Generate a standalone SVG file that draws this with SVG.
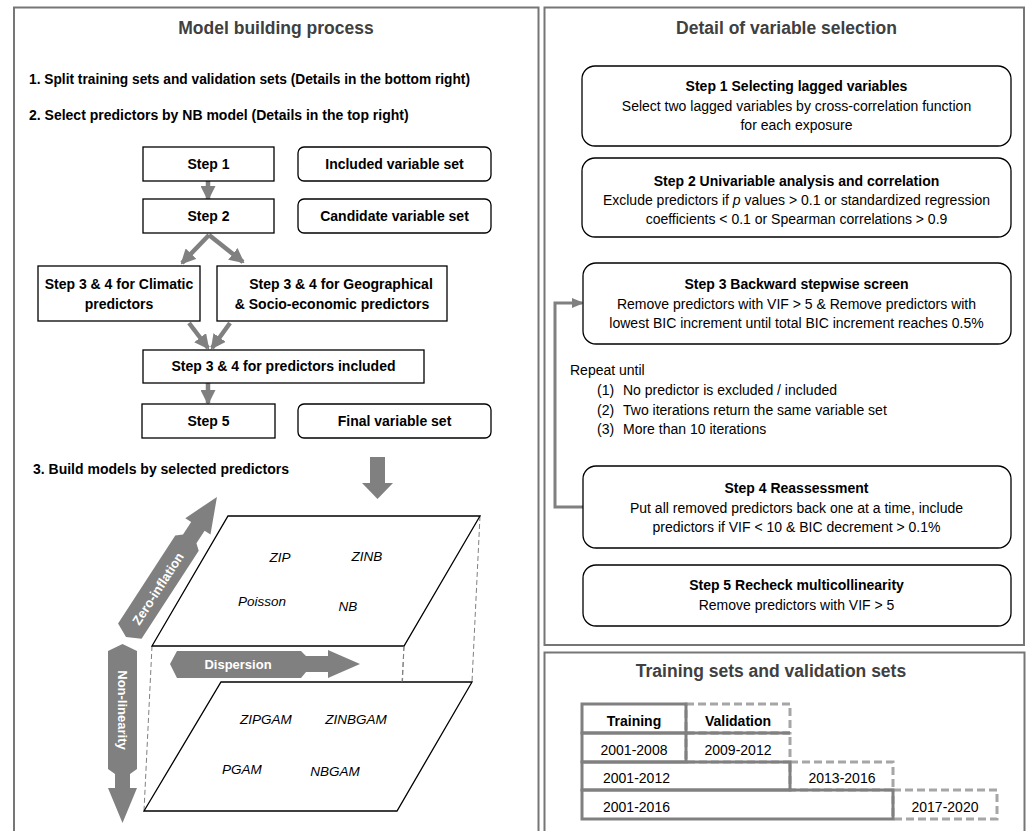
<svg xmlns="http://www.w3.org/2000/svg" width="1030" height="831" viewBox="0 0 1030 831">
<style>
.panel{fill:none;stroke:#767676;stroke-width:2}
.box{fill:#fff;stroke:#000;stroke-width:1.3}
.t{font-family:"Liberation Sans",Arial,sans-serif;font-size:14px;fill:#000}
.b{font-weight:bold}
.c{text-anchor:middle}
.title{font-family:"Liberation Sans",Arial,sans-serif;font-size:17.5px;font-weight:bold;fill:#404040;text-anchor:middle}
.it{font-family:"Liberation Sans",Arial,sans-serif;font-size:13.5px;font-style:italic;fill:#000;text-anchor:middle}
.w{font-family:"Liberation Sans",Arial,sans-serif;font-size:13px;font-weight:bold;fill:#fff;text-anchor:middle}
.garrow{fill:none;stroke:#808080;stroke-width:4.5}
.gshape{fill:#808080}
.plane{fill:#fff;stroke:#000;stroke-width:1.3}
.dash{fill:none;stroke:#808080;stroke-width:1;stroke-dasharray:5 3}
.solid{fill:none;stroke:#808080;stroke-width:3}
.dcell{fill:none;stroke:#a6a6a6;stroke-width:3;stroke-dasharray:8 4}
</style>
<defs>
<marker id="ah" markerUnits="userSpaceOnUse" markerWidth="15" markerHeight="15" viewBox="0 0 15 15" refX="13" refY="7.5" orient="auto">
<path d="M0,0 L15,7.5 L0,15 Z" fill="#808080"/>
</marker>
<marker id="ah2" markerUnits="userSpaceOnUse" markerWidth="12" markerHeight="12" viewBox="0 0 12 12" refX="10" refY="6" orient="auto">
<path d="M0,1 L12,6 L0,11 Z" fill="#808080"/>
</marker>
</defs>

<rect x="0" y="0" width="1030" height="831" fill="#fff"/>

<!-- panels -->
<g id="panel-left">
<rect class="panel" x="14" y="7.5" width="524.5" height="840"/>
<text class="title" x="276" y="34">Model building process</text>
<text class="t b" x="29" y="84" textLength="441" lengthAdjust="spacingAndGlyphs">1. Split training sets and validation sets (Details in the bottom right)</text>
<text class="t b" x="29" y="120">2. Select predictors by NB model (Details in the top right)</text>
<text class="t b" x="33" y="474">3. Build models by selected predictors</text>
</g>
<g id="panel-right-top">
<rect class="panel" x="544.5" y="7.5" width="479.5" height="637.5"/>
<text class="title" x="786.5" y="34">Detail of variable selection</text>
</g>
<g id="panel-right-bottom">
<rect class="panel" x="544.5" y="652.5" width="480" height="200"/>
<text class="title" x="771" y="677">Training sets and validation sets</text>
</g>

<!-- connectors -->
<g id="connectors">
<line class="garrow" x1="208" y1="181" x2="208" y2="199" marker-end="url(#ah)"/>
<line class="garrow" x1="209" y1="235" x2="182" y2="263" marker-end="url(#ah)"/>
<line class="garrow" x1="209" y1="235" x2="243" y2="262" marker-end="url(#ah)"/>
<line class="garrow" x1="189" y1="323" x2="208" y2="348" marker-end="url(#ah)"/>
<line class="garrow" x1="230" y1="323" x2="212" y2="348" marker-end="url(#ah)"/>
<line class="garrow" x1="208" y1="383" x2="208" y2="403" marker-end="url(#ah)"/>
<polygon class="gshape" points="370,457 385,457 385,483 393,483 377.5,499 362,483 370,483"/>
<polyline fill="none" stroke="#808080" stroke-width="3" points="583,507 555,507 555,303 582,303" marker-end="url(#ah2)"/>
</g>

<!-- flowchart nodes -->
<g id="step1"><rect class="box" x="143" y="147" width="131" height="34"/><text class="t b c" x="208.5" y="169">Step 1</text></g>
<g id="included-set"><rect class="box" x="298" y="147" width="193" height="34" rx="6"/><text class="t b c" x="394.5" y="169">Included variable set</text></g>
<g id="step2"><rect class="box" x="143" y="199" width="131" height="34"/><text class="t b c" x="208.5" y="221">Step 2</text></g>
<g id="candidate-set"><rect class="box" x="298" y="199" width="193" height="34" rx="6"/><text class="t b c" x="394.5" y="221">Candidate variable set</text></g>
<g id="step34-climatic"><rect class="box" x="38" y="266" width="162" height="55"/><text class="t b c" x="119" y="289">Step 3 &amp; 4 for Climatic</text><text class="t b c" x="119" y="309">predictors</text></g>
<g id="step34-geo"><rect class="box" x="217" y="266" width="230" height="55"/><text class="t b c" x="341" y="289">Step 3 &amp; 4 for Geographical</text><text class="t b c" x="332" y="309">&amp; Socio-economic predictors</text></g>
<g id="step34-included"><rect class="box" x="143" y="350" width="281" height="33"/><text class="t b c" x="283.5" y="371">Step 3 &amp; 4 for predictors included</text></g>
<g id="step5"><rect class="box" x="142" y="404" width="133" height="34"/><text class="t b c" x="208.5" y="426">Step 5</text></g>
<g id="final-set"><rect class="box" x="298" y="404" width="193" height="34" rx="6"/><text class="t b c" x="394.5" y="426">Final variable set</text></g>

<!-- model cube -->
<g id="cube">
<line class="dash" x1="152" y1="646" x2="144" y2="811"/>
<line class="dash" x1="404" y1="646" x2="397" y2="811"/>
<line class="dash" x1="480" y1="516" x2="472" y2="682"/>
<polygon class="plane" points="221,682 472,682 397,811 144,811"/>
<polygon class="plane" points="228,516 480,516 404,646 152,646" fill-opacity="0"/>
<line class="dash" x1="404" y1="646" x2="402" y2="682"/>
<text class="it" x="280" y="562">ZIP</text>
<text class="it" x="367" y="561">ZINB</text>
<text class="it" x="262" y="606">Poisson</text>
<text class="it" x="348" y="611">NB</text>
<text class="it" x="266" y="724">ZIPGAM</text>
<text class="it" x="356" y="724">ZINBGAM</text>
<text class="it" x="242" y="774">PGAM</text>
<text class="it" x="335" y="776">NBGAM</text>
</g>
<g id="axis-zero-inflation" transform="translate(126,637) rotate(-57)">
<polygon class="gshape" points="0,0 7,-14 112,-14 117,-8 132,-8 132,-15 167,0 132,15 132,8 117,8 112,14 7,14"/>
<text class="w" x="58" y="5">Zero-inflation</text>
</g>
<g id="axis-non-linearity">
<polygon class="gshape" points="122.5,644 137,651 137,769 130,774 130,788 137,788 122.5,823 108,788 115,788 115,774 108,769 108,651"/>
<text class="w" transform="translate(118,710) rotate(90)" x="0" y="0">Non-linearity</text>
</g>
<g id="axis-dispersion">
<polygon class="gshape" points="170,664 177,651 301,651 306,656 328,656 328,650 360,664 328,678 328,672 306,672 301,678 177,678"/>
<text class="w" x="238" y="669">Dispersion</text>
</g>

<!-- variable selection detail -->
<g id="vs-step1"><rect class="box" x="582" y="66" width="429" height="80" rx="13"/>
<text class="t b c" x="796.5" y="91">Step 1 Selecting lagged variables</text>
<text class="t c" x="796.5" y="111">Select two lagged variables by cross-correlation function</text>
<text class="t c" x="796.5" y="130">for each exposure</text></g>
<g id="vs-step2"><rect class="box" x="582" y="158" width="429" height="79" rx="13"/>
<text class="t b c" x="796.5" y="186">Step 2 Univariable analysis and correlation</text>
<text class="t c" x="796.5" y="205">Exclude predictors if <tspan font-style="italic">p</tspan> values &gt; 0.1 or standardized regression</text>
<text class="t c" x="796.5" y="224">coefficients &lt; 0.1 or Spearman correlations &gt; 0.9</text></g>
<g id="vs-step3"><rect class="box" x="583" y="263" width="428" height="81" rx="13"/>
<text class="t b c" x="796.5" y="289">Step 3 Backward stepwise screen</text>
<text class="t c" x="796.5" y="309">Remove predictors with VIF &gt; 5 &amp; Remove predictors with</text>
<text class="t c" x="796.5" y="328">lowest BIC increment until total BIC increment reaches 0.5%</text></g>
<g id="vs-repeat">
<text class="t" x="570" y="375">Repeat until</text>
<text class="t" x="597" y="395">(1)</text><text class="t" x="623" y="395">No predictor is excluded / included</text>
<text class="t" x="597" y="415">(2)</text><text class="t" x="623" y="415">Two iterations return the same variable set</text>
<text class="t" x="597" y="434">(3)</text><text class="t" x="623" y="434">More than 10 iterations</text>
</g>
<g id="vs-step4"><rect class="box" x="583" y="466" width="428" height="82" rx="13"/>
<text class="t b c" x="796.5" y="493">Step 4 Reassessment</text>
<text class="t c" x="796.5" y="513">Put all removed predictors back one at a time, include</text>
<text class="t c" x="796.5" y="532">predictors if VIF &lt; 10 &amp; BIC decrement &gt; 0.1%</text></g>
<g id="vs-step5"><rect class="box" x="583" y="565" width="428" height="61" rx="13"/>
<text class="t b c" x="796.5" y="590">Step 5 Recheck multicollinearity</text>
<text class="t c" x="796.5" y="610">Remove predictors with VIF &gt; 5</text></g>

<!-- training / validation table -->
<g id="table">
<rect class="dcell" x="686" y="704" width="104" height="29"/>
<rect class="dcell" x="686" y="733" width="104" height="29"/>
<rect class="dcell" x="790" y="762" width="103" height="28"/>
<rect class="dcell" x="893" y="790" width="104" height="29"/>
<rect class="solid" x="582" y="704" width="104" height="29"/>
<rect class="solid" x="582" y="733" width="104" height="29"/>
<line class="solid" x1="686" y1="733" x2="790" y2="733"/>
<rect class="solid" x="582" y="762" width="208" height="28"/>
<rect class="solid" x="582" y="790" width="311" height="29"/>
<text class="t b c" x="634" y="726">Training</text>
<text class="t b c" x="738" y="726">Validation</text>
<text class="t c" x="634" y="755">2001-2008</text>
<text class="t c" x="738" y="755">2009-2012</text>
<text class="t" x="603" y="783">2001-2012</text>
<text class="t c" x="842" y="783">2013-2016</text>
<text class="t" x="603" y="812">2001-2016</text>
<text class="t c" x="945" y="812">2017-2020</text>
</g>
</svg>
